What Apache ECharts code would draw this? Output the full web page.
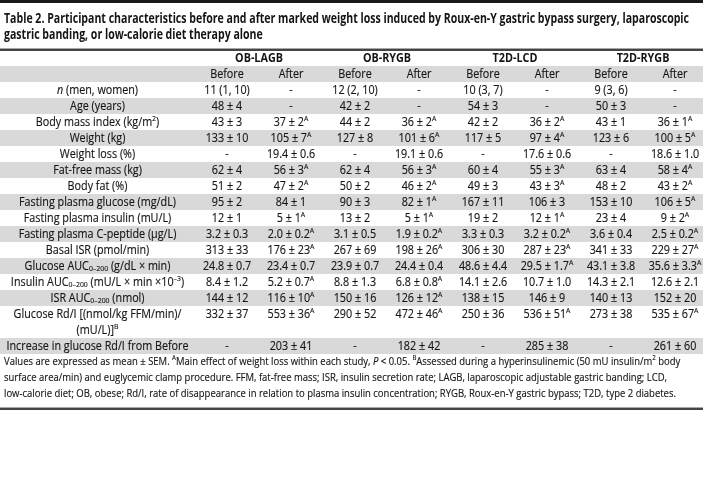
<!DOCTYPE html>
<html><head><meta charset="utf-8">
<script src="https://cdn.jsdelivr.net/npm/echarts@6/dist/echarts.min.js"></script>
<style>html,body{margin:0;padding:0;background:#fff}#c{width:703px;height:488px}</style>
</head><body><div id="c"></div>
<script>
// ---------- data ----------
const titleLines = [
  'Table 2. Participant characteristics before and after marked weight loss induced by Roux-en-Y gastric bypass surgery, laparoscopic',
  'gastric banding, or low-calorie diet therapy alone'
];
const groups = ['OB-LAGB', 'OB-RYGB', 'T2D-LCD', 'T2D-RYGB'];
const phases = ['Before', 'After'];
const categories = [
  '{i|n} (men, women)',
  'Age (years)',
  'Body mass index (kg/m{sup|2})',
  'Weight (kg)',
  'Weight loss (%)',
  'Fat-free mass (kg)',
  'Body fat (%)',
  'Fasting plasma glucose (mg/dL)',
  'Fasting plasma insulin (mU/L)',
  'Fasting plasma C-peptide (μg/L)',
  'Basal ISR (pmol/min)',
  'Glucose AUC{sub|0–200} (g/dL × min)',
  'Insulin AUC{sub|0–200} (mU/L × min ×10{sup|–3})',
  'ISR AUC{sub|0–200} (nmol)',
  'Glucose Rd/I [(nmol/kg FFM/min)/\n(mU/L)]{sup|B}',
  'Increase in glucose Rd/I from Before'
];
const obLagbBefore = ['11 (1, 10)', '48 ± 4', '43 ± 3', '133 ± 10', '-', '62 ± 4', '51 ± 2', '95 ± 2', '12 ± 1', '3.2 ± 0.3', '313 ± 33', '24.8 ± 0.7', '8.4 ± 1.2', '144 ± 12', '332 ± 37', '-'];
const obLagbAfter = ['-', '-', '37 ± 2{sup|A}', '105 ± 7{sup|A}', '19.4 ± 0.6', '56 ± 3{sup|A}', '47 ± 2{sup|A}', '84 ± 1', '5 ± 1{sup|A}', '2.0 ± 0.2{sup|A}', '176 ± 23{sup|A}', '23.4 ± 0.7', '5.2 ± 0.7{sup|A}', '116 ± 10{sup|A}', '553 ± 36{sup|A}', '203 ± 41'];
const obRygbBefore = ['12 (2, 10)', '42 ± 2', '44 ± 2', '127 ± 8', '-', '62 ± 4', '50 ± 2', '90 ± 3', '13 ± 2', '3.1 ± 0.5', '267 ± 69', '23.9 ± 0.7', '8.8 ± 1.3', '150 ± 16', '290 ± 52', '-'];
const obRygbAfter = ['-', '-', '36 ± 2{sup|A}', '101 ± 6{sup|A}', '19.1 ± 0.6', '56 ± 3{sup|A}', '46 ± 2{sup|A}', '82 ± 1{sup|A}', '5 ± 1{sup|A}', '1.9 ± 0.2{sup|A}', '198 ± 26{sup|A}', '24.4 ± 0.4', '6.8 ± 0.8{sup|A}', '126 ± 12{sup|A}', '472 ± 46{sup|A}', '182 ± 42'];
const t2dLcdBefore = ['10 (3, 7)', '54 ± 3', '42 ± 2', '117 ± 5', '-', '60 ± 4', '49 ± 3', '167 ± 11', '19 ± 2', '3.3 ± 0.3', '306 ± 30', '48.6 ± 4.4', '14.1 ± 2.6', '138 ± 15', '250 ± 36', '-'];
const t2dLcdAfter = ['-', '-', '36 ± 2{sup|A}', '97 ± 4{sup|A}', '17.6 ± 0.6', '55 ± 3{sup|A}', '43 ± 3{sup|A}', '106 ± 3', '12 ± 1{sup|A}', '3.2 ± 0.2{sup|A}', '287 ± 23{sup|A}', '29.5 ± 1.7{sup|A}', '10.7 ± 1.0', '146 ± 9', '536 ± 51{sup|A}', '285 ± 38'];
const t2dRygbBefore = ['9 (3, 6)', '50 ± 3', '43 ± 1', '123 ± 6', '-', '63 ± 4', '48 ± 2', '153 ± 10', '23 ± 4', '3.6 ± 0.4', '341 ± 33', '43.1 ± 3.8', '14.3 ± 2.1', '140 ± 13', '273 ± 38', '-'];
const t2dRygbAfter = ['-', '-', '36 ± 1{sup|A}', '100 ± 5{sup|A}', '18.6 ± 1.0', '58 ± 4{sup|A}', '43 ± 2{sup|A}', '106 ± 5{sup|A}', '9 ± 2{sup|A}', '2.5 ± 0.2{sup|A}', '229 ± 27{sup|A}', '35.6 ± 3.3{sup|A}', '12.6 ± 2.1', '152 ± 20', '535 ± 67{sup|A}', '261 ± 60'];
const footnotes = [
  'Values are expressed as mean ± SEM. {sup|A}Main effect of weight loss within each study, {i|P} < 0.05. {sup|B}Assessed during a hyperinsulinemic (50 mU insulin/m{sup|2} body',
  'surface area/min) and euglycemic clamp procedure. FFM, fat-free mass; ISR, insulin secretion rate; LAGB, laparoscopic adjustable gastric banding; LCD,',
  'low-calorie diet; OB, obese; Rd/I, rate of disappearance in relation to plasma insulin concentration; RYGB, Roux-en-Y gastric bypass; T2D, type 2 diabetes.'
];
const valueColumns = [obLagbBefore, obLagbAfter, obRygbBefore, obRygbAfter, t2dLcdBefore, t2dLcdAfter, t2dRygbBefore, t2dRygbAfter];

// ---------- layout / style ----------
const W = 703;
const FONT = "'Open Sans', 'Noto Sans', sans-serif";
const TXT = '#141414';
const BAND = '#d9d9d9';
const LINE_H = 16;
const GRID_TOP = 50;
const UNIT_PX = 64;              // width of one value column
const LABEL_PX = 195;            // width of the label column
const LABEL_UNITS = LABEL_PX / UNIT_PX;
const X_MAX = W / UNIT_PX;       // visible width in column units
const HEADER_LINES = 2;
const BODY_SIZE = 12.5;
const FOOT_SIZE = 11;
const TITLE_SIZE = 14;
const SUP_SIZE = 8;
const THICK = 0.15;              // slight stroke to darken the thin glyphs

// horizontal condensing fitted to the measured line widths of the reference
const plain = s => s.replace(/\{\w+\|([^}]*)\}/g, '$1');
const mctx = document.createElement('canvas').getContext('2d');
function fitScale(text, weight, size, target) {
  mctx.font = weight + ' ' + size + 'px ' + FONT;
  return target / mctx.measureText(plain(text)).width;
}
const SX_FOOT = fitScale(footnotes[0], 'normal', FOOT_SIZE, 683);
const SX_BODY = SX_FOOT * 1.0;
const SX_TITLE = fitScale(titleLines[0], 'bold', TITLE_SIZE, 685);

const tokenBase = { fontFamily: FONT, fill: TXT, stroke: TXT, lineWidth: THICK };
const makeRich = size => ({
  sup: Object.assign({ fontSize: SUP_SIZE * size / BODY_SIZE, verticalAlign: 'top', lineHeight: 8 }, tokenBase),
  sub: Object.assign({ fontSize: SUP_SIZE * size / BODY_SIZE, verticalAlign: 'bottom', lineHeight: 6 }, tokenBase),
  i: Object.assign({ fontSize: size, fontStyle: 'italic', lineHeight: 14 }, tokenBase)
});
const richBody = makeRich(BODY_SIZE);
const richFoot = makeRich(FOOT_SIZE);

// build rows (line positions derived from line counts)
const spans = categories.map(c => c.split('\n').length);
const starts = [];
let acc = HEADER_LINES;
spans.forEach(s => { starts.push(acc); acc += s; });
const totalLines = acc;

const bands = [[1, 1]];
categories.forEach((c, i) => { if (i % 2 === 1) bands.push([starts[i], spans[i]]); });

const cells = [];
groups.forEach((g, gi) => cells.push({ x: LABEL_UNITS + 2 * gi + 1, y: 0.5, text: g, bold: true }));
valueColumns.forEach((col, ci) => cells.push({ x: LABEL_UNITS + ci + 0.5, y: 1.5, text: phases[ci % 2] }));
categories.forEach((c, i) => {
  c.split('\n').forEach((part, k) => cells.push({ x: LABEL_UNITS / 2, y: starts[i] + k + 0.5, text: part }));
  valueColumns.forEach((col, ci) => cells.push({ x: LABEL_UNITS + ci + 0.5, y: starts[i] + 0.5, text: col[i] }));
});

const chart = echarts.init(document.getElementById('c'), null, { renderer: 'canvas' });
const textLine = (text, y, bold, size, sx) => ({
  type: 'text', x: 4, y, scaleX: sx, silent: true,
  style: {
    text, fill: TXT, stroke: bold ? null : TXT, lineWidth: bold ? 0 : THICK,
    fontFamily: FONT, fontSize: size, fontWeight: bold ? 'bold' : 'normal',
    align: 'left', verticalAlign: 'middle', textAlign: 'left', textVerticalAlign: 'middle', lineHeight: 15, rich: richFoot
  }
});
chart.setOption({
  animation: false,
  backgroundColor: '#fff',
  grid: { left: 0, right: 0, top: GRID_TOP, height: totalLines * LINE_H },
  xAxis: { type: 'value', min: 0, max: X_MAX, show: false },
  yAxis: { type: 'value', min: 0, max: totalLines, inverse: true, show: false },
  graphic: [
    { type: 'rect', shape: { x: 0, y: 0, width: W, height: 3 }, style: { fill: '#1a1a1a' } },
    textLine(titleLines[0], 19, true, TITLE_SIZE, SX_TITLE),
    textLine(titleLines[1], 35, true, TITLE_SIZE, SX_TITLE),
    { type: 'rect', shape: { x: 0, y: 48, width: W, height: 1 }, style: { fill: '#a8a8a8' } },
    { type: 'rect', shape: { x: 0, y: 49, width: W, height: 2 }, style: { fill: '#444' } },
    textLine(footnotes[0], 362, false, FOOT_SIZE, SX_FOOT),
    textLine(footnotes[1], 378, false, FOOT_SIZE, SX_FOOT),
    textLine(footnotes[2], 394, false, FOOT_SIZE, SX_FOOT),
    { type: 'rect', shape: { x: 0, y: 407, width: W, height: 1 }, style: { fill: '#a8a8a8' } },
    { type: 'rect', shape: { x: 0, y: 408, width: W, height: 2 }, style: { fill: '#444' } }
  ],
  series: [
    {
      type: 'custom', silent: true, data: bands, clip: false,
      renderItem(params, api) {
        const y0 = api.value(0), y1 = y0 + api.value(1);
        const p0 = api.coord([0, y0]), p1 = api.coord([X_MAX, y1]);
        return { type: 'rect', shape: { x: p0[0], y: p0[1], width: p1[0] - p0[0], height: p1[1] - p0[1] }, style: { fill: BAND } };
      }
    },
    {
      type: 'custom', silent: true, clip: false,
      data: cells.map(c => [c.x, c.y]),
      renderItem(params, api) {
        const c = cells[params.dataIndex];
        const p = api.coord([api.value(0), api.value(1)]);
        return {
          type: 'text', x: p[0], y: p[1], scaleX: SX_BODY,
          style: {
            text: c.text, fill: TXT, stroke: c.bold ? null : TXT, lineWidth: c.bold ? 0 : THICK,
            fontFamily: FONT, fontSize: BODY_SIZE, fontWeight: c.bold ? 'bold' : 'normal',
            align: 'center', verticalAlign: 'middle', textAlign: 'center', textVerticalAlign: 'middle', lineHeight: 14, rich: richBody
          }
        };
      }
    }
  ]
});
</script></body></html>
